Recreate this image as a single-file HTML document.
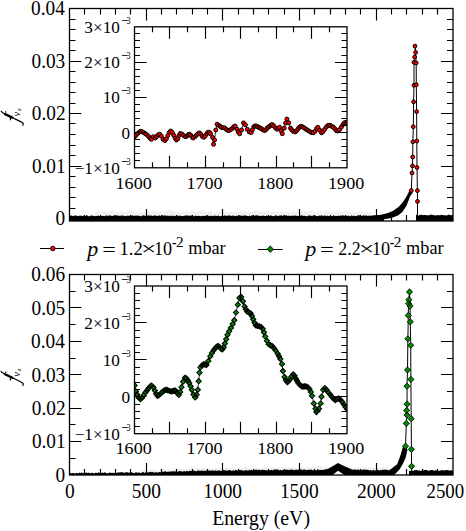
<!DOCTYPE html>
<html><head><meta charset="utf-8"><style>html,body{margin:0;padding:0;background:#fff;width:466px;height:531px;overflow:hidden;font-family:"Liberation Serif",serif}</style></head><body>
<svg width="466" height="531" viewBox="0 0 466 531" style="position:absolute;left:0;top:0">
<rect width="466" height="531" fill="#fff"/>
<path d="M95 211.47 97 211.2 99 210.29 101 211.44 103 211.33 105 211.13 107 212.14 109 211.32 111 211.03 113 210.62 115 212.36 117 211.84 119 212.37 121 210.58 123 210.87 125 212.5 127 210.14 129 210.19 131 210.97 133 211.06 135 212.21 137 212.56 139 211.28 141 212.45 143 212.12 145 212 147 212.52 149 211.44 151 211.5 153 210.49 155 211.3 157 211 159 211.35 161 210.94 163 211.46 165 211.9 167 210.11 169 210.11 171 210.5 173 210.83 175 211.81 177 212.03 179 211.88 181 212.42 183 210.68 185 211.6 187 210.48 189 211.63 191 210.2 193 210.48 195 212.6 197 212.08 199 210.32 201 211.43 203 210.15 205 211.61 207 212.42 209 211.03 211 210.65 213 211.93 215 212.38 217 211.77 219 210.19 221 210.7 223 212.31 225 211.98 227 212.35 229 212.45 231 210.61 233 212.16 235 211.2 237 211.48 239 212.12 241 210.77 243 212.27 245 210.99 247 212.31 249 211.55 251 212.07 253 211.93 255 210.17 257 210.59 259 211.84 261 210.39 263 212.07 265 211.61 267 210.46 269 211 271 212.35 273 210.13 275 212.07 277 211.95 279 210.67 281 211.78 283 211.86 285 212.42 287 212.37 289 211.14 291 211.99 293 211.1 295 211.67 297 211.47 299 210.2 301 211.39 303 211.16 305 210.43 307 212.14 309 212.21 311 210.33 313 210.56 315 211.98 317 212.13 319 210.75 321 210.25 323 212.11 325 210.22 327 210.39 329 211.09 331 211.55 333 212.34 335 212.5 337 210.19 339 212 341 210.84 343 211.96 345 210.54 347 211.11 349 211.87 351 212.16 353 210.8 355 212.43 357 212.03 359 211.2 361 210.47 363 211.06 365 211.9 367 210.31 369 212.09 371 212.56 372 212.6 372 216.5 95 216.5Z" fill="#f1f1f1"/>
<path d="M69.5 216.08 70.5 215.44 71.5 215.51 72.5 215.97 73.5 215.75 74.5 215.8 75.5 215.61 76.5 215.49 77.5 216.12 78.5 216.17 79.5 215.45 80.5 215.81 81.5 215.51 82.5 216.2 83.5 215.8 84.5 215.55 85.5 215.99 86.5 215.35 87.5 215.39 88.5 216.17 89.5 216.18 90.5 215.71 91.5 215.35 92.5 215.86 93.5 216.01 94.5 215.82 95.5 216.17 96.5 216 97.5 215.81 98.5 215.75 99.5 215.99 100.5 215.99 101.5 216 102.5 215.79 103.5 215.94 104.5 216.18 105.5 215.45 106.5 215.7 107.5 215.62 108.5 216.03 109.5 215.31 110.5 215.43 111.5 216.09 112.5 215.9 113.5 215.55 114.5 215.56 115.5 215.36 116.5 215.82 117.5 215.45 118.5 215.6 119.5 215.93 120.5 215.67 121.5 215.41 122.5 215.44 123.5 215.75 124.5 215.67 125.5 216.17 126.5 215.98 127.5 215.48 128.5 215.83 129.5 216.04 130.5 215.71 131.5 215.57 132.5 215.59 133.5 215.86 134.5 215.8 135.5 215.74 136.5 215.5 137.5 215.73 138.5 215.85 139.5 215.76 140.5 216.17 141.5 216.16 142.5 215.57 143.5 215.32 144.5 215.67 145.5 215.85 146.5 216.05 147.5 215.75 148.5 215.32 149.5 215.51 150.5 215.71 151.5 215.43 152.5 215.99 153.5 215.74 154.5 215.34 155.5 215.68 156.5 215.79 157.5 215.96 158.5 215.71 159.5 215.34 160.5 216.19 161.5 215.49 162.5 215.46 163.5 215.4 164.5 215.53 165.5 215.47 166.5 215.73 167.5 215.69 168.5 215.82 169.5 216.15 170.5 215.42 171.5 215.69 172.5 216.02 173.5 215.75 174.5 215.76 175.5 215.88 176.5 215.89 177.5 215.72 178.5 215.64 179.5 215.65 180.5 215.79 181.5 216.17 182.5 215.99 183.5 216.04 184.5 215.67 185.5 215.43 186.5 215.48 187.5 215.48 188.5 215.47 189.5 215.97 190.5 215.44 191.5 215.59 192.5 216.13 193.5 216.18 194.5 216.19 195.5 215.52 196.5 215.98 197.5 216.1 198.5 215.64 199.5 215.89 200.5 216.14 201.5 216.06 202.5 215.73 203.5 216.05 204.5 215.95 205.5 215.56 206.5 215.79 207.5 215.91 208.5 215.77 209.5 216.18 210.5 215.85 211.5 215.82 212.5 216.03 213.5 216.1 214.5 215.39 215.5 215.74 216.5 216.01 217.5 215.65 218.5 215.46 219.5 216.18 220.5 216.18 221.5 216.07 222.5 215.55 223.5 216.06 224.5 215.57 225.5 215.59 226.5 215.71 227.5 216 228.5 215.32 229.5 215.48 230.5 215.74 231.5 216 232.5 215.62 233.5 215.84 234.5 215.68 235.5 215.91 236.5 215.63 237.5 216.15 238.5 215.93 239.5 215.33 240.5 215.41 241.5 215.92 242.5 215.43 243.5 215.92 244.5 215.35 245.5 215.53 246.5 215.83 247.5 215.97 248.5 216.19 249.5 215.41 250.5 216.17 251.5 215.46 252.5 215.33 253.5 215.69 254.5 216.05 255.5 215.42 256.5 215.32 257.5 215.57 258.5 215.74 259.5 215.86 260.5 215.89 261.5 216.01 262.5 215.59 263.5 215.81 264.5 216.03 265.5 216.11 266.5 215.6 267.5 215.93 268.5 215.75 269.5 215.91 270.5 215.42 271.5 215.39 272.5 216.18 273.5 216.02 274.5 215.91 275.5 215.31 276.5 215.5 277.5 215.89 278.5 216.01 279.5 215.59 280.5 215.45 281.5 215.36 282.5 215.89 283.5 215.41 284.5 215.58 285.5 215.76 286.5 215.31 287.5 215.99 288.5 215.55 289.5 216.12 290.5 216.05 291.5 215.38 292.5 216.01 293.5 215.52 294.5 215.66 295.5 215.44 296.5 215.87 297.5 215.89 298.5 215.94 299.5 215.42 300.5 215.66 301.5 215.34 302.5 215.4 303.5 216.08 304.5 215.7 305.5 216.11 306.5 216.16 307.5 216.13 308.5 215.42 309.5 215.49 310.5 215.45 311.5 215.89 312.5 215.65 313.5 215.5 314.5 215.86 315.5 215.69 316.5 216 317.5 216.13 318.5 215.96 319.5 215.4 320.5 215.69 321.5 215.37 322.5 215.79 323.5 215.95 324.5 215.49 325.5 215.46 326.5 216.19 327.5 215.6 328.5 216.12 329.5 216.1 330.5 215.4 331.5 216.16 332.5 215.98 333.5 215.31 334.5 215.82 335.5 216.1 336.5 216.05 337.5 215.98 338.5 215.53 339.5 216.11 340.5 215.38 341.5 215.86 342.5 215.33 343.5 215.38 344.5 215.94 345.5 215.97 346.5 215.77 347.5 216.11 348.5 215.61 349.5 216.16 350.5 216.19 351.5 215.32 352.5 215.93 353.5 215.66 354.5 215.8 355.5 215.92 356.5 216.14 357.5 215.38 358.5 215.33 359.5 215.33 360.5 216.1 361.5 216.01 362.5 215.64 363.5 215.32 364.5 215.71 365.5 215.58 366.5 215.6 367.5 215.97 368.5 215.71 369.5 215.92 370.5 215.98 371.5 216.13 372.5 215.95 373.5 215.31 374.5 215.8 375.5 215.61 376.5 215.62 377.5 215.35 378.5 215.85 379.5 215.92 380.5 215.91 381.5 215.91 382.5 215.44 383.5 215.4 384 216.2 384 221 69.5 221Z" fill="#000"/>
<path d="M416 214.64 417 214.65 418 215.54 419 215.52 420 214.76 421 214.86 422 214.93 423 215.29 424 214.99 425 214.99 426 215.02 427 215.44 428 215.17 429 215.21 430 214.88 431 214.61 432 214.65 433 215.06 434 215.16 435 215.33 436 215.56 437 215.57 438 215.14 439 215.28 440 215.22 441 214.71 442 215.07 443 215.04 444 215.36 445 215.58 446 215.27 447 215.46 448 215.09 449 214.6 450 214.93 451 215.42 452 214.71 453 215.6 453 221 416 221Z" fill="#000"/>
<path d="M366 216 374 215.6 381 214.8 388 213.1 393.6 210.6 399 206.5 403.3 201.5 406.5 196.5 409.2 191 411.3 188.5 412.6 192.9 410.2 196.1 406.5 205.8 402.2 212.2 397.9 215.4 391.5 218.1 380 220 366 220Z" fill="#000"/>
<path d="M411.3 190.5 412 173 412.5 165.9 412.7 157 412.9 141.8 413.3 126.7 413.6 101.8 414 85.3 414 62.3 414.7 57 415.6 52.4 415 46.1 415 46.1 416.2 62.9 416.3 84.7 416.6 111.6 416.8 141 417 167.5 417.4 190.6 417.5 201.4 417.5 216.5" fill="none" stroke="#000" stroke-width="1.0"/>
<g fill="#ff0000" stroke="#000" stroke-width="1.0"><circle cx="411.3" cy="190.5" r="1.9"/><circle cx="412" cy="173" r="1.9"/><circle cx="412.5" cy="165.9" r="1.9"/><circle cx="412.7" cy="157" r="1.9"/><circle cx="412.9" cy="141.8" r="1.9"/><circle cx="413.3" cy="126.7" r="1.9"/><circle cx="413.6" cy="101.8" r="1.9"/><circle cx="414" cy="85.3" r="1.9"/><circle cx="414" cy="62.3" r="1.9"/><circle cx="414.7" cy="57" r="1.9"/><circle cx="415.6" cy="52.4" r="1.9"/><circle cx="415" cy="46.1" r="1.9"/><circle cx="416.2" cy="62.9" r="1.9"/><circle cx="416.3" cy="84.7" r="1.9"/><circle cx="416.6" cy="111.6" r="1.9"/><circle cx="416.8" cy="141" r="1.9"/><circle cx="417" cy="167.5" r="1.9"/><circle cx="417.4" cy="190.6" r="1.9"/><circle cx="417.5" cy="201.4" r="1.9"/></g>
<path d="M140 470.75 142 469.9 144 469.91 146 470.08 148 470.41 150 469.48 152 469.39 154 469.76 156 469.71 158 470.05 160 470.33 162 469.71 164 469.32 166 470.03 168 468.88 170 469.65 172 469.58 174 469.8 176 468.3 178 468.63 180 468.35 182 468.68 184 469.48 186 468.97 188 468.65 190 469.16 192 467.84 194 468.65 196 468.9 198 467.84 200 468.81 202 467.59 204 468.28 206 468.12 208 468.41 210 468.18 212 468.61 214 468.82 216 467.56 218 468.49 220 467.65 222 468.49 224 467.33 226 467.43 228 467.62 230 467.59 232 467.84 234 467.6 236 468.49 238 467.94 240 467.4 242 468.32 244 467.22 246 467.25 248 467.95 250 468 252 467.86 254 467.94 256 467 258 467.9 260 468.42 262 468.3 264 467.35 266 466.92 268 467.64 270 467.63 272 467.53 274 467.21 276 467.98 278 467.38 280 467.45 282 467.33 284 467.97 286 467.97 288 467.69 290 466.8 292 467.65 294 467.26 296 467.68 298 467.96 300 468 302 466.89 304 466.95 306 467.56 308 467.1 310 467.12 312 466.79 314 466.71 316 467.54 318 466.68 320 466.72 322 467.29 324 466.86 326 467.45 328 467.63 330 467.83 332 466.89 334 467.97 336 468.12 338 467.02 340 467.07 342 467.52 344 466.99 346 468.18 348 467.87 350 467.83 352 467.64 354 468.02 356 468.18 358 467.79 360 466.95 362 466.83 364 467.19 366 467.6 368 467.95 370 466.9 372 467.55 374 467.25 376 468.31 378 468.04 380 467.11 382 467.18 384 467.06 386 467.48 388 467.75 390 468.4 390 475 140 475Z" fill="#f0f0f0"/>
<path d="M69.5 473.34 70.5 472.99 71.5 473.18 72.5 472.92 73.5 472.89 74.5 473.5 75.5 473.55 76.5 472.64 77.5 473.27 78.5 473.29 79.5 472.45 80.5 473.02 81.5 472.61 82.5 473 83.5 472.82 84.5 473.35 85.5 472.81 86.5 472.55 87.5 472.92 88.5 472.67 89.5 472.75 90.5 473.41 91.5 472.64 92.5 472.82 93.5 473.13 94.5 473.42 95.5 472.5 96.5 472.93 97.5 472.65 98.5 472.47 99.5 472.64 100.5 472.41 101.5 472.98 102.5 472.53 103.5 472.92 104.5 472.37 105.5 472.43 106.5 473.28 107.5 473.23 108.5 473.14 109.5 472.31 110.5 472.89 111.5 472.67 112.5 473.02 113.5 472.79 114.5 472.92 115.5 472.95 116.5 472.69 117.5 472.68 118.5 472.33 119.5 472.57 120.5 472.29 121.5 472.36 122.5 472.21 123.5 472.55 124.5 473.11 125.5 472.33 126.5 472.21 127.5 472.28 128.5 472.64 129.5 472.47 130.5 473.02 131.5 472.33 132.5 472.61 133.5 472.92 134.5 473.16 135.5 472.29 136.5 472.13 137.5 473.12 138.5 472.33 139.5 472.75 140.5 473.02 141.5 472.83 142.5 472.27 143.5 472.12 144.5 473 145.5 472.34 146.5 472.93 147.5 472.16 148.5 472.55 149.5 471.91 150.5 471.77 151.5 472.26 152.5 471.68 153.5 472.41 154.5 472.63 155.5 472.02 156.5 472.62 157.5 472.4 158.5 472.13 159.5 471.88 160.5 472.34 161.5 472.44 162.5 471.5 163.5 472.07 164.5 471.33 165.5 471.36 166.5 471.9 167.5 471.78 168.5 471.68 169.5 471.51 170.5 471.53 171.5 471.53 172.5 471.43 173.5 471.05 174.5 471.49 175.5 471.54 176.5 471.19 177.5 471.69 178.5 471.59 179.5 470.81 180.5 471.28 181.5 471.21 182.5 471.77 183.5 471.29 184.5 471.08 185.5 471.66 186.5 470.97 187.5 470.92 188.5 471.52 189.5 470.86 190.5 471 191.5 470.74 192.5 471.06 193.5 470.64 194.5 470.57 195.5 471.33 196.5 471.25 197.5 470.54 198.5 470.19 199.5 470.94 200.5 470.69 201.5 470.53 202.5 470.83 203.5 470.77 204.5 470.82 205.5 470.74 206.5 470.49 207.5 470.8 208.5 470.71 209.5 470.26 210.5 471.08 211.5 470.47 212.5 470.28 213.5 470.74 214.5 470.82 215.5 470.18 216.5 470.79 217.5 470.84 218.5 470.55 219.5 470.26 220.5 470.9 221.5 470.65 222.5 470.63 223.5 470.07 224.5 470.5 225.5 470.03 226.5 470.78 227.5 470.58 228.5 470.23 229.5 469.96 230.5 470.43 231.5 470.67 232.5 470.77 233.5 470.32 234.5 470.68 235.5 469.99 236.5 469.95 237.5 470.66 238.5 470.55 239.5 469.96 240.5 470.13 241.5 469.94 242.5 470.44 243.5 470.67 244.5 470.48 245.5 469.92 246.5 470.48 247.5 470.39 248.5 470.3 249.5 470.29 250.5 470.3 251.5 469.72 252.5 470.56 253.5 470.71 254.5 469.67 255.5 469.73 256.5 469.61 257.5 470.2 258.5 469.63 259.5 469.64 260.5 470.41 261.5 469.83 262.5 469.72 263.5 469.9 264.5 470.05 265.5 470.29 266.5 470.23 267.5 470.34 268.5 470.51 269.5 469.93 270.5 470.25 271.5 469.67 272.5 470.5 273.5 469.54 274.5 469.77 275.5 469.5 276.5 469.53 277.5 469.51 278.5 469.86 279.5 470.47 280.5 469.66 281.5 470.28 282.5 470.13 283.5 469.72 284.5 469.86 285.5 469.98 286.5 469.39 287.5 469.74 288.5 470.03 289.5 470.12 290.5 469.44 291.5 469.85 292.5 469.51 293.5 469.97 294.5 470.13 295.5 469.75 296.5 469.43 297.5 470.13 298.5 469.44 299.5 469.29 300.5 469.42 301.5 469.4 302.5 470.3 303.5 469.62 304.5 469.37 305.5 470.26 306.5 470.02 307.5 470.03 308.5 469.75 309.5 469.87 310.5 469.81 311.5 469.48 312.5 470.34 313.5 470.28 314.5 470.21 315.5 470.21 316.5 470.28 317.5 469.29 318.5 469.42 319.5 470.27 320.5 469.82 321.5 470.02 322.5 470.03 323.5 469.99 324.5 469.67 325.5 469.74 326.5 469.99 327.5 470.18 328.5 470.03 329.5 470.26 330.5 469.79 331.5 469.62 332.5 469.99 333.5 470.32 334.5 470.22 335.5 470.01 336.5 469.76 337.5 469.56 338.5 470.01 339.5 469.55 340.5 469.75 341.5 469.96 342.5 470.03 343.5 469.9 344.5 469.68 345.5 469.99 346.5 469.69 347.5 469.95 348.5 470.19 349.5 469.88 350.5 469.7 351.5 470.39 352.5 470.01 353.5 470.01 354.5 469.51 355.5 469.45 356.5 470.08 357.5 469.5 358.5 469.62 359.5 470.21 360.5 469.99 361.5 470.37 362.5 469.61 363.5 469.78 364.5 469.54 365.5 469.65 366.5 469.79 367.5 469.72 368.5 469.91 369.5 470.42 370.5 469.89 371.5 470.53 372.5 470.38 373.5 469.69 374.5 470.5 375.5 470.45 376.5 470.45 377.5 469.59 378.5 470.36 379.5 470.54 380.5 469.64 381.5 470.44 382.5 469.65 383.5 469.84 384.5 469.66 385.5 469.54 386.5 469.95 387.5 469.71 388.5 470.56 389.5 469.75 390 470.6 390 475 69.5 475Z" fill="#000"/>
<path d="M409 470.72 410 470.88 411 470.52 412 470.81 413 470.92 414 470.52 415 469.9 416 470.04 417 470.08 418 470.73 419 470.36 420 470.67 421 470.79 422 470.87 423 470.74 424 469.89 425 470.01 426 470.03 427 470.04 428 470.77 429 470.63 430 470.25 431 470.12 432 469.97 433 469.94 434 470.9 435 470.27 436 470.19 437 470.39 438 470.79 439 470.43 440 470.89 441 469.88 442 469.96 443 470.34 444 470.64 445 469.91 446 470.31 447 469.94 448 469.98 449 470.39 450 470.5 451 470.28 452 470.48 453 471 453 475 409 475Z" fill="#000"/>
<path d="M318 471 327.7 469 333 466 338 463 344 466 352 469.5 360 471 360 475 318 475Z" fill="#000"/>
<path d="M332.5 475 338 470.8 344.5 475Z" fill="#fff"/>
<path d="M386 471.8 388.6 471 392.9 467.6 397.2 464.2 398.5 460.8 400.6 454.7 401.9 450.5 402.7 447.4 405 445 407.5 449.6 405.8 457.3 403.2 463.3 399.7 469.3 394.2 474.9 386 475Z" fill="#000"/>
<path d="M405.5 446.2 406.3 423.4 407.1 415.1 406.7 410.4 407.1 404.2 407 386.2 407.5 370 407.9 338.8 408.3 315.4 408.5 303.5 408.9 299.8 409.5 291.9 409.5 291.9 410.1 306 410.3 321.8 410.7 345.3 410.9 379.4 411.2 418.7 411.4 449.3 411.6 466.3 411.8 472" fill="none" stroke="#000" stroke-width="1.0"/>
<path d="M405.5 443.1l3.1 3.1l-3.1 3.1l-3.1 -3.1zM406.3 420.3l3.1 3.1l-3.1 3.1l-3.1 -3.1zM407.1 412l3.1 3.1l-3.1 3.1l-3.1 -3.1zM406.7 407.3l3.1 3.1l-3.1 3.1l-3.1 -3.1zM407.1 401.1l3.1 3.1l-3.1 3.1l-3.1 -3.1zM407 383.1l3.1 3.1l-3.1 3.1l-3.1 -3.1zM407.5 366.9l3.1 3.1l-3.1 3.1l-3.1 -3.1zM407.9 335.7l3.1 3.1l-3.1 3.1l-3.1 -3.1zM408.3 312.3l3.1 3.1l-3.1 3.1l-3.1 -3.1zM408.5 300.4l3.1 3.1l-3.1 3.1l-3.1 -3.1zM408.9 296.7l3.1 3.1l-3.1 3.1l-3.1 -3.1zM409.5 288.8l3.1 3.1l-3.1 3.1l-3.1 -3.1zM410.1 302.9l3.1 3.1l-3.1 3.1l-3.1 -3.1zM410.3 318.7l3.1 3.1l-3.1 3.1l-3.1 -3.1zM410.7 342.2l3.1 3.1l-3.1 3.1l-3.1 -3.1zM410.9 376.3l3.1 3.1l-3.1 3.1l-3.1 -3.1zM411.2 415.6l3.1 3.1l-3.1 3.1l-3.1 -3.1zM411.4 446.2l3.1 3.1l-3.1 3.1l-3.1 -3.1zM411.6 463.2l3.1 3.1l-3.1 3.1l-3.1 -3.1z" fill="#008a00" stroke="#000" stroke-width="0.85"/>
<rect x="134.5" y="26.8" width="212.5" height="141" fill="#fff"/>
<rect x="134.5" y="286" width="212.5" height="147.7" fill="#fff"/>
<clipPath id="ct"><rect x="134.5" y="26.8" width="212.5" height="141"/></clipPath>
<g clip-path="url(#ct)">
<path d="M134.6 136.7 135.87 135.39 137.65 133.58 139.2 132.2 140.41 131.42 141.7 131.6 143.26 132.34 145.12 133.5 146.9 134.8 148.55 136.47 150.12 138.28 151.4 139.3 153.3 136.7 155.2 138 156.48 136.73 158.05 134.9 159.7 134.2 161.36 136.17 163.1 139.27 164.9 140.6 166.31 138.89 167.76 135.64 169.24 132.47 170.7 131 172.2 132.31 173.72 135.31 175.19 138.4 176.5 140 177.86 138.62 179 135.52 180.3 133.5 181.98 134.06 183.81 135.7 185.5 136.7 186.9 136.06 188.16 134.78 189.4 134.2 190.74 135.2 192.07 136.89 193.2 138 195.2 136.5 196.43 135.19 197.91 133.66 199.4 133 200.83 134.2 202.26 136.27 203.7 137.3 205.2 136.05 206.69 133.75 208 132.2 209.44 132.45 210.6 133.8 212.6 137.5 213.5 144.3 214.5 140 215.8 130 217.1 124.2 219 125.5 220.22 126.49 221.6 127.4 223.16 127.66 224.8 128 226.4 129.42 228 130.6 229.56 130.31 231.2 129.3 232.52 128.14 233.92 126.76 235.1 126.1 237 129.3 238.3 131.99 239.6 133.8 241.5 130 243.5 122.9 245.4 124.8 247.3 129.3 249.3 131.9 251.2 132.5 252.46 129.67 253.8 126.7 255.05 125.96 256.3 126.1 257.59 126.63 258.9 127.4 260.16 128.01 261.5 128.7 263.1 129.89 264.7 130.6 266.04 129.54 267.3 128 268.61 126.98 269.9 126.1 270.97 124.94 272.3 124.6 273.74 125.92 275.43 127.92 276.9 129.2 278.37 128.14 279.6 127.3 281 130.73 282.3 133.7 284.2 128.2 285.56 123.07 286.9 119.1 288.7 122.8 290.5 128.2 291.79 129.9 293.4 131.41 295.1 131.9 296.41 130.98 297.8 129.21 299.21 127.41 300.6 126.4 301.91 126.5 303.19 127.23 304.52 128.25 306 129.2 307.38 130.01 308.91 131.02 310.48 131.98 311.98 132.65 313.3 132.8 315.07 131.23 316.54 128.66 317.9 127.3 319.59 130.16 321.5 132.8 322.92 131.66 324.58 129.38 326.3 126.99 327.9 125.5 329.36 125.27 330.76 125.71 332.11 126.5 333.4 127.3 334.93 128.83 336.37 130.58 338 131 339.56 129.59 341.32 127.13 343.02 124.55 344.4 122.8 346.1 122.29 347 122.8" fill="none" stroke="#000" stroke-width="0.8"/>
<g fill="#ff0000" stroke="#000" stroke-width="1.0"><circle cx="134.6" cy="136.7" r="2.0"/><circle cx="135.87" cy="135.39" r="2.0"/><circle cx="137.65" cy="133.58" r="2.0"/><circle cx="139.2" cy="132.2" r="2.0"/><circle cx="140.41" cy="131.42" r="2.0"/><circle cx="141.7" cy="131.6" r="2.0"/><circle cx="143.26" cy="132.34" r="2.0"/><circle cx="145.12" cy="133.5" r="2.0"/><circle cx="146.9" cy="134.8" r="2.0"/><circle cx="148.55" cy="136.47" r="2.0"/><circle cx="150.12" cy="138.28" r="2.0"/><circle cx="151.4" cy="139.3" r="2.0"/><circle cx="153.3" cy="136.7" r="2.0"/><circle cx="155.2" cy="138" r="2.0"/><circle cx="156.48" cy="136.73" r="2.0"/><circle cx="158.05" cy="134.9" r="2.0"/><circle cx="159.7" cy="134.2" r="2.0"/><circle cx="161.36" cy="136.17" r="2.0"/><circle cx="163.1" cy="139.27" r="2.0"/><circle cx="164.9" cy="140.6" r="2.0"/><circle cx="166.31" cy="138.89" r="2.0"/><circle cx="167.76" cy="135.64" r="2.0"/><circle cx="169.24" cy="132.47" r="2.0"/><circle cx="170.7" cy="131" r="2.0"/><circle cx="172.2" cy="132.31" r="2.0"/><circle cx="173.72" cy="135.31" r="2.0"/><circle cx="175.19" cy="138.4" r="2.0"/><circle cx="176.5" cy="140" r="2.0"/><circle cx="177.86" cy="138.62" r="2.0"/><circle cx="179" cy="135.52" r="2.0"/><circle cx="180.3" cy="133.5" r="2.0"/><circle cx="181.98" cy="134.06" r="2.0"/><circle cx="183.81" cy="135.7" r="2.0"/><circle cx="185.5" cy="136.7" r="2.0"/><circle cx="186.9" cy="136.06" r="2.0"/><circle cx="188.16" cy="134.78" r="2.0"/><circle cx="189.4" cy="134.2" r="2.0"/><circle cx="190.74" cy="135.2" r="2.0"/><circle cx="192.07" cy="136.89" r="2.0"/><circle cx="193.2" cy="138" r="2.0"/><circle cx="195.2" cy="136.5" r="2.0"/><circle cx="196.43" cy="135.19" r="2.0"/><circle cx="197.91" cy="133.66" r="2.0"/><circle cx="199.4" cy="133" r="2.0"/><circle cx="200.83" cy="134.2" r="2.0"/><circle cx="202.26" cy="136.27" r="2.0"/><circle cx="203.7" cy="137.3" r="2.0"/><circle cx="205.2" cy="136.05" r="2.0"/><circle cx="206.69" cy="133.75" r="2.0"/><circle cx="208" cy="132.2" r="2.0"/><circle cx="209.44" cy="132.45" r="2.0"/><circle cx="210.6" cy="133.8" r="2.0"/><circle cx="212.6" cy="137.5" r="2.0"/><circle cx="213.5" cy="144.3" r="2.0"/><circle cx="214.5" cy="140" r="2.0"/><circle cx="215.8" cy="130" r="2.0"/><circle cx="217.1" cy="124.2" r="2.0"/><circle cx="219" cy="125.5" r="2.0"/><circle cx="220.22" cy="126.49" r="2.0"/><circle cx="221.6" cy="127.4" r="2.0"/><circle cx="223.16" cy="127.66" r="2.0"/><circle cx="224.8" cy="128" r="2.0"/><circle cx="226.4" cy="129.42" r="2.0"/><circle cx="228" cy="130.6" r="2.0"/><circle cx="229.56" cy="130.31" r="2.0"/><circle cx="231.2" cy="129.3" r="2.0"/><circle cx="232.52" cy="128.14" r="2.0"/><circle cx="233.92" cy="126.76" r="2.0"/><circle cx="235.1" cy="126.1" r="2.0"/><circle cx="237" cy="129.3" r="2.0"/><circle cx="238.3" cy="131.99" r="2.0"/><circle cx="239.6" cy="133.8" r="2.0"/><circle cx="241.5" cy="130" r="2.0"/><circle cx="243.5" cy="122.9" r="2.0"/><circle cx="245.4" cy="124.8" r="2.0"/><circle cx="247.3" cy="129.3" r="2.0"/><circle cx="249.3" cy="131.9" r="2.0"/><circle cx="251.2" cy="132.5" r="2.0"/><circle cx="252.46" cy="129.67" r="2.0"/><circle cx="253.8" cy="126.7" r="2.0"/><circle cx="255.05" cy="125.96" r="2.0"/><circle cx="256.3" cy="126.1" r="2.0"/><circle cx="257.59" cy="126.63" r="2.0"/><circle cx="258.9" cy="127.4" r="2.0"/><circle cx="260.16" cy="128.01" r="2.0"/><circle cx="261.5" cy="128.7" r="2.0"/><circle cx="263.1" cy="129.89" r="2.0"/><circle cx="264.7" cy="130.6" r="2.0"/><circle cx="266.04" cy="129.54" r="2.0"/><circle cx="267.3" cy="128" r="2.0"/><circle cx="268.61" cy="126.98" r="2.0"/><circle cx="269.9" cy="126.1" r="2.0"/><circle cx="270.97" cy="124.94" r="2.0"/><circle cx="272.3" cy="124.6" r="2.0"/><circle cx="273.74" cy="125.92" r="2.0"/><circle cx="275.43" cy="127.92" r="2.0"/><circle cx="276.9" cy="129.2" r="2.0"/><circle cx="278.37" cy="128.14" r="2.0"/><circle cx="279.6" cy="127.3" r="2.0"/><circle cx="281" cy="130.73" r="2.0"/><circle cx="282.3" cy="133.7" r="2.0"/><circle cx="284.2" cy="128.2" r="2.0"/><circle cx="285.56" cy="123.07" r="2.0"/><circle cx="286.9" cy="119.1" r="2.0"/><circle cx="288.7" cy="122.8" r="2.0"/><circle cx="290.5" cy="128.2" r="2.0"/><circle cx="291.79" cy="129.9" r="2.0"/><circle cx="293.4" cy="131.41" r="2.0"/><circle cx="295.1" cy="131.9" r="2.0"/><circle cx="296.41" cy="130.98" r="2.0"/><circle cx="297.8" cy="129.21" r="2.0"/><circle cx="299.21" cy="127.41" r="2.0"/><circle cx="300.6" cy="126.4" r="2.0"/><circle cx="301.91" cy="126.5" r="2.0"/><circle cx="303.19" cy="127.23" r="2.0"/><circle cx="304.52" cy="128.25" r="2.0"/><circle cx="306" cy="129.2" r="2.0"/><circle cx="307.38" cy="130.01" r="2.0"/><circle cx="308.91" cy="131.02" r="2.0"/><circle cx="310.48" cy="131.98" r="2.0"/><circle cx="311.98" cy="132.65" r="2.0"/><circle cx="313.3" cy="132.8" r="2.0"/><circle cx="315.07" cy="131.23" r="2.0"/><circle cx="316.54" cy="128.66" r="2.0"/><circle cx="317.9" cy="127.3" r="2.0"/><circle cx="319.59" cy="130.16" r="2.0"/><circle cx="321.5" cy="132.8" r="2.0"/><circle cx="322.92" cy="131.66" r="2.0"/><circle cx="324.58" cy="129.38" r="2.0"/><circle cx="326.3" cy="126.99" r="2.0"/><circle cx="327.9" cy="125.5" r="2.0"/><circle cx="329.36" cy="125.27" r="2.0"/><circle cx="330.76" cy="125.71" r="2.0"/><circle cx="332.11" cy="126.5" r="2.0"/><circle cx="333.4" cy="127.3" r="2.0"/><circle cx="334.93" cy="128.83" r="2.0"/><circle cx="336.37" cy="130.58" r="2.0"/><circle cx="338" cy="131" r="2.0"/><circle cx="339.56" cy="129.59" r="2.0"/><circle cx="341.32" cy="127.13" r="2.0"/><circle cx="343.02" cy="124.55" r="2.0"/><circle cx="344.4" cy="122.8" r="2.0"/><circle cx="346.1" cy="122.29" r="2.0"/><circle cx="347" cy="122.8" r="2.0"/></g>
</g>
<clipPath id="cb"><rect x="134.5" y="286" width="212.5" height="147.7"/></clipPath>
<g clip-path="url(#cb)">
<path d="M134.6 385.5 136 391.5 137.19 394.48 138.69 397.64 140.3 399.2 141.94 398.01 143.67 395.21 145.5 392.4 147 390.4 148.61 388.21 150.16 386.38 151.5 385.5 153.41 387.29 154.9 390.6 156.14 393.73 157.5 395.8 158.81 395.27 160.31 393.79 161.8 392.4 163.17 391.31 164.53 390.32 166 389.8 167.69 390.14 169.5 390.97 171.2 391.5 172.73 391.2 174.17 390.6 175.5 390.6 177.31 393.23 178.9 395 180.2 391.96 181.5 387.2 183.09 381.69 184.9 377.8 186.33 378.36 187.86 380.53 189.2 382.9 190.56 386.19 191.8 389.8 193.5 394.56 195.2 397.5 196.66 394.67 197.8 389.8 198.7 381.2 199.5 372.6 200.4 367.5 201.99 365.38 203.8 364 205.07 364.78 206.4 364.9 208.3 360.98 210.3 356.2 211.97 352.92 213.7 350.2 215.07 348.39 216.53 346.77 218 346 219.5 346.92 220.99 348.68 222.3 349.4 223.71 347.15 224.9 343.4 226.15 339.16 227.5 334.8 229.15 331.29 230.9 327.9 232.71 324.1 234.3 320.2 236 312.5 237.8 304.7 239.5 297.9 241.2 297 242.9 301.3 244.6 306.5 245.79 309.27 247.2 311.6 248.9 312.39 250.6 313.3 251.95 316.03 253.2 319.3 254.45 322.62 255.8 325.3 257.44 325.96 259.2 326.2 261.01 327.07 262.7 328.8 263.95 332.33 265.2 336.5 266.89 340.72 268.7 344.2 270.41 345.32 272.1 346 273.88 347.99 275.5 350.2 277.7 353.7 279.03 356.2 280.3 358.9 282 364 282.9 370.9 284.6 376.9 285.85 380.04 287.2 382.1 288.39 381.45 289.7 379.5 291.44 376.47 293.2 374.3 294.56 375.86 295.8 378.6 296.99 380.8 298.3 382.9 299.94 384.92 301.8 386.4 303.17 386.57 304.63 386.34 306 386.4 307.86 387.22 309.5 388.9 310.86 392.02 312 395.8 313.8 403.5 315.5 408.7 316.4 412.1 317.6 410.94 318.9 408.7 320.6 403.5 321.5 396.7 323.2 389.8 324.9 388.1 326.54 389.88 328.4 392.4 330.11 394.61 331.8 396.7 333.49 398.77 335.2 400.1 336.95 399.25 338.7 398.4 340.41 399.67 342.1 401.8 343.92 404.49 345.5 407 347 409" fill="none" stroke="#000" stroke-width="0.8"/>
<path d="M134.6 382.9l2.6 2.6l-2.6 2.6l-2.6 -2.6zM136 388.9l2.6 2.6l-2.6 2.6l-2.6 -2.6zM137.19 391.88l2.6 2.6l-2.6 2.6l-2.6 -2.6zM138.69 395.04l2.6 2.6l-2.6 2.6l-2.6 -2.6zM140.3 396.6l2.6 2.6l-2.6 2.6l-2.6 -2.6zM141.94 395.41l2.6 2.6l-2.6 2.6l-2.6 -2.6zM143.67 392.61l2.6 2.6l-2.6 2.6l-2.6 -2.6zM145.5 389.8l2.6 2.6l-2.6 2.6l-2.6 -2.6zM147 387.8l2.6 2.6l-2.6 2.6l-2.6 -2.6zM148.61 385.61l2.6 2.6l-2.6 2.6l-2.6 -2.6zM150.16 383.78l2.6 2.6l-2.6 2.6l-2.6 -2.6zM151.5 382.9l2.6 2.6l-2.6 2.6l-2.6 -2.6zM153.41 384.69l2.6 2.6l-2.6 2.6l-2.6 -2.6zM154.9 388l2.6 2.6l-2.6 2.6l-2.6 -2.6zM156.14 391.13l2.6 2.6l-2.6 2.6l-2.6 -2.6zM157.5 393.2l2.6 2.6l-2.6 2.6l-2.6 -2.6zM158.81 392.67l2.6 2.6l-2.6 2.6l-2.6 -2.6zM160.31 391.19l2.6 2.6l-2.6 2.6l-2.6 -2.6zM161.8 389.8l2.6 2.6l-2.6 2.6l-2.6 -2.6zM163.17 388.71l2.6 2.6l-2.6 2.6l-2.6 -2.6zM164.53 387.72l2.6 2.6l-2.6 2.6l-2.6 -2.6zM166 387.2l2.6 2.6l-2.6 2.6l-2.6 -2.6zM167.69 387.54l2.6 2.6l-2.6 2.6l-2.6 -2.6zM169.5 388.37l2.6 2.6l-2.6 2.6l-2.6 -2.6zM171.2 388.9l2.6 2.6l-2.6 2.6l-2.6 -2.6zM172.73 388.6l2.6 2.6l-2.6 2.6l-2.6 -2.6zM174.17 388l2.6 2.6l-2.6 2.6l-2.6 -2.6zM175.5 388l2.6 2.6l-2.6 2.6l-2.6 -2.6zM177.31 390.63l2.6 2.6l-2.6 2.6l-2.6 -2.6zM178.9 392.4l2.6 2.6l-2.6 2.6l-2.6 -2.6zM180.2 389.36l2.6 2.6l-2.6 2.6l-2.6 -2.6zM181.5 384.6l2.6 2.6l-2.6 2.6l-2.6 -2.6zM183.09 379.09l2.6 2.6l-2.6 2.6l-2.6 -2.6zM184.9 375.2l2.6 2.6l-2.6 2.6l-2.6 -2.6zM186.33 375.76l2.6 2.6l-2.6 2.6l-2.6 -2.6zM187.86 377.93l2.6 2.6l-2.6 2.6l-2.6 -2.6zM189.2 380.3l2.6 2.6l-2.6 2.6l-2.6 -2.6zM190.56 383.59l2.6 2.6l-2.6 2.6l-2.6 -2.6zM191.8 387.2l2.6 2.6l-2.6 2.6l-2.6 -2.6zM193.5 391.96l2.6 2.6l-2.6 2.6l-2.6 -2.6zM195.2 394.9l2.6 2.6l-2.6 2.6l-2.6 -2.6zM196.66 392.07l2.6 2.6l-2.6 2.6l-2.6 -2.6zM197.8 387.2l2.6 2.6l-2.6 2.6l-2.6 -2.6zM198.7 378.6l2.6 2.6l-2.6 2.6l-2.6 -2.6zM199.5 370l2.6 2.6l-2.6 2.6l-2.6 -2.6zM200.4 364.9l2.6 2.6l-2.6 2.6l-2.6 -2.6zM201.99 362.78l2.6 2.6l-2.6 2.6l-2.6 -2.6zM203.8 361.4l2.6 2.6l-2.6 2.6l-2.6 -2.6zM205.07 362.18l2.6 2.6l-2.6 2.6l-2.6 -2.6zM206.4 362.3l2.6 2.6l-2.6 2.6l-2.6 -2.6zM208.3 358.38l2.6 2.6l-2.6 2.6l-2.6 -2.6zM210.3 353.6l2.6 2.6l-2.6 2.6l-2.6 -2.6zM211.97 350.32l2.6 2.6l-2.6 2.6l-2.6 -2.6zM213.7 347.6l2.6 2.6l-2.6 2.6l-2.6 -2.6zM215.07 345.79l2.6 2.6l-2.6 2.6l-2.6 -2.6zM216.53 344.17l2.6 2.6l-2.6 2.6l-2.6 -2.6zM218 343.4l2.6 2.6l-2.6 2.6l-2.6 -2.6zM219.5 344.32l2.6 2.6l-2.6 2.6l-2.6 -2.6zM220.99 346.08l2.6 2.6l-2.6 2.6l-2.6 -2.6zM222.3 346.8l2.6 2.6l-2.6 2.6l-2.6 -2.6zM223.71 344.55l2.6 2.6l-2.6 2.6l-2.6 -2.6zM224.9 340.8l2.6 2.6l-2.6 2.6l-2.6 -2.6zM226.15 336.56l2.6 2.6l-2.6 2.6l-2.6 -2.6zM227.5 332.2l2.6 2.6l-2.6 2.6l-2.6 -2.6zM229.15 328.69l2.6 2.6l-2.6 2.6l-2.6 -2.6zM230.9 325.3l2.6 2.6l-2.6 2.6l-2.6 -2.6zM232.71 321.5l2.6 2.6l-2.6 2.6l-2.6 -2.6zM234.3 317.6l2.6 2.6l-2.6 2.6l-2.6 -2.6zM236 309.9l2.6 2.6l-2.6 2.6l-2.6 -2.6zM237.8 302.1l2.6 2.6l-2.6 2.6l-2.6 -2.6zM239.5 295.3l2.6 2.6l-2.6 2.6l-2.6 -2.6zM241.2 294.4l2.6 2.6l-2.6 2.6l-2.6 -2.6zM242.9 298.7l2.6 2.6l-2.6 2.6l-2.6 -2.6zM244.6 303.9l2.6 2.6l-2.6 2.6l-2.6 -2.6zM245.79 306.67l2.6 2.6l-2.6 2.6l-2.6 -2.6zM247.2 309l2.6 2.6l-2.6 2.6l-2.6 -2.6zM248.9 309.79l2.6 2.6l-2.6 2.6l-2.6 -2.6zM250.6 310.7l2.6 2.6l-2.6 2.6l-2.6 -2.6zM251.95 313.43l2.6 2.6l-2.6 2.6l-2.6 -2.6zM253.2 316.7l2.6 2.6l-2.6 2.6l-2.6 -2.6zM254.45 320.02l2.6 2.6l-2.6 2.6l-2.6 -2.6zM255.8 322.7l2.6 2.6l-2.6 2.6l-2.6 -2.6zM257.44 323.36l2.6 2.6l-2.6 2.6l-2.6 -2.6zM259.2 323.6l2.6 2.6l-2.6 2.6l-2.6 -2.6zM261.01 324.47l2.6 2.6l-2.6 2.6l-2.6 -2.6zM262.7 326.2l2.6 2.6l-2.6 2.6l-2.6 -2.6zM263.95 329.73l2.6 2.6l-2.6 2.6l-2.6 -2.6zM265.2 333.9l2.6 2.6l-2.6 2.6l-2.6 -2.6zM266.89 338.12l2.6 2.6l-2.6 2.6l-2.6 -2.6zM268.7 341.6l2.6 2.6l-2.6 2.6l-2.6 -2.6zM270.41 342.72l2.6 2.6l-2.6 2.6l-2.6 -2.6zM272.1 343.4l2.6 2.6l-2.6 2.6l-2.6 -2.6zM273.88 345.39l2.6 2.6l-2.6 2.6l-2.6 -2.6zM275.5 347.6l2.6 2.6l-2.6 2.6l-2.6 -2.6zM277.7 351.1l2.6 2.6l-2.6 2.6l-2.6 -2.6zM279.03 353.6l2.6 2.6l-2.6 2.6l-2.6 -2.6zM280.3 356.3l2.6 2.6l-2.6 2.6l-2.6 -2.6zM282 361.4l2.6 2.6l-2.6 2.6l-2.6 -2.6zM282.9 368.3l2.6 2.6l-2.6 2.6l-2.6 -2.6zM284.6 374.3l2.6 2.6l-2.6 2.6l-2.6 -2.6zM285.85 377.44l2.6 2.6l-2.6 2.6l-2.6 -2.6zM287.2 379.5l2.6 2.6l-2.6 2.6l-2.6 -2.6zM288.39 378.85l2.6 2.6l-2.6 2.6l-2.6 -2.6zM289.7 376.9l2.6 2.6l-2.6 2.6l-2.6 -2.6zM291.44 373.87l2.6 2.6l-2.6 2.6l-2.6 -2.6zM293.2 371.7l2.6 2.6l-2.6 2.6l-2.6 -2.6zM294.56 373.26l2.6 2.6l-2.6 2.6l-2.6 -2.6zM295.8 376l2.6 2.6l-2.6 2.6l-2.6 -2.6zM296.99 378.2l2.6 2.6l-2.6 2.6l-2.6 -2.6zM298.3 380.3l2.6 2.6l-2.6 2.6l-2.6 -2.6zM299.94 382.32l2.6 2.6l-2.6 2.6l-2.6 -2.6zM301.8 383.8l2.6 2.6l-2.6 2.6l-2.6 -2.6zM303.17 383.97l2.6 2.6l-2.6 2.6l-2.6 -2.6zM304.63 383.74l2.6 2.6l-2.6 2.6l-2.6 -2.6zM306 383.8l2.6 2.6l-2.6 2.6l-2.6 -2.6zM307.86 384.62l2.6 2.6l-2.6 2.6l-2.6 -2.6zM309.5 386.3l2.6 2.6l-2.6 2.6l-2.6 -2.6zM310.86 389.42l2.6 2.6l-2.6 2.6l-2.6 -2.6zM312 393.2l2.6 2.6l-2.6 2.6l-2.6 -2.6zM313.8 400.9l2.6 2.6l-2.6 2.6l-2.6 -2.6zM315.5 406.1l2.6 2.6l-2.6 2.6l-2.6 -2.6zM316.4 409.5l2.6 2.6l-2.6 2.6l-2.6 -2.6zM317.6 408.34l2.6 2.6l-2.6 2.6l-2.6 -2.6zM318.9 406.1l2.6 2.6l-2.6 2.6l-2.6 -2.6zM320.6 400.9l2.6 2.6l-2.6 2.6l-2.6 -2.6zM321.5 394.1l2.6 2.6l-2.6 2.6l-2.6 -2.6zM323.2 387.2l2.6 2.6l-2.6 2.6l-2.6 -2.6zM324.9 385.5l2.6 2.6l-2.6 2.6l-2.6 -2.6zM326.54 387.27l2.6 2.6l-2.6 2.6l-2.6 -2.6zM328.4 389.8l2.6 2.6l-2.6 2.6l-2.6 -2.6zM330.11 392.01l2.6 2.6l-2.6 2.6l-2.6 -2.6zM331.8 394.1l2.6 2.6l-2.6 2.6l-2.6 -2.6zM333.49 396.17l2.6 2.6l-2.6 2.6l-2.6 -2.6zM335.2 397.5l2.6 2.6l-2.6 2.6l-2.6 -2.6zM336.95 396.65l2.6 2.6l-2.6 2.6l-2.6 -2.6zM338.7 395.8l2.6 2.6l-2.6 2.6l-2.6 -2.6zM340.41 397.07l2.6 2.6l-2.6 2.6l-2.6 -2.6zM342.1 399.2l2.6 2.6l-2.6 2.6l-2.6 -2.6zM343.92 401.89l2.6 2.6l-2.6 2.6l-2.6 -2.6zM345.5 404.4l2.6 2.6l-2.6 2.6l-2.6 -2.6zM347 406.4l2.6 2.6l-2.6 2.6l-2.6 -2.6z" fill="#008a00" stroke="#000" stroke-width="1.05"/>
</g>
<rect x="134.5" y="26.8" width="212.5" height="141" fill="none" stroke="#000" stroke-width="1.3"/>
<rect x="134.5" y="286" width="212.5" height="147.7" fill="none" stroke="#000" stroke-width="1.3"/>
<path d="M152.5 167.8v-5.5M152.5 26.8v5.5M169.5 167.8v-12M169.5 26.8v12M187.5 167.8v-5.5M187.5 26.8v5.5M205.5 167.8v-12M205.5 26.8v12M223.5 167.8v-5.5M223.5 26.8v5.5M240.5 167.8v-12M240.5 26.8v12M258.5 167.8v-5.5M258.5 26.8v5.5M276.5 167.8v-12M276.5 26.8v12M293.5 167.8v-5.5M293.5 26.8v5.5M311.5 167.8v-12M311.5 26.8v12M329.5 167.8v-5.5M329.5 26.8v5.5M134.5 160.5h5.5M347 160.5h-5.5M134.5 153.5h5.5M347 153.5h-5.5M134.5 146.5h5.5M347 146.5h-5.5M134.5 139.5h5.5M347 139.5h-5.5M134.5 132.5h12M347 132.5h-12M134.5 125.5h5.5M347 125.5h-5.5M134.5 118.5h5.5M347 118.5h-5.5M134.5 111.5h5.5M347 111.5h-5.5M134.5 104.5h5.5M347 104.5h-5.5M134.5 97.5h12M347 97.5h-12M134.5 90.5h5.5M347 90.5h-5.5M134.5 83.5h5.5M347 83.5h-5.5M134.5 76.5h5.5M347 76.5h-5.5M134.5 69.5h5.5M347 69.5h-5.5M134.5 62.5h12M347 62.5h-12M134.5 55.5h5.5M347 55.5h-5.5M134.5 47.5h5.5M347 47.5h-5.5M134.5 40.5h5.5M347 40.5h-5.5M134.5 33.5h5.5M347 33.5h-5.5" stroke="#000" stroke-width="1.15" fill="none"/>
<path d="M152.5 433.7v-5.5M152.5 286v5.5M169.5 433.7v-12M169.5 286v12M187.5 433.7v-5.5M187.5 286v5.5M205.5 433.7v-12M205.5 286v12M223.5 433.7v-5.5M223.5 286v5.5M240.5 433.7v-12M240.5 286v12M258.5 433.7v-5.5M258.5 286v5.5M276.5 433.7v-12M276.5 286v12M293.5 433.7v-5.5M293.5 286v5.5M311.5 433.7v-12M311.5 286v12M329.5 433.7v-5.5M329.5 286v5.5M134.5 426.5h5.5M347 426.5h-5.5M134.5 418.5h5.5M347 418.5h-5.5M134.5 411.5h5.5M347 411.5h-5.5M134.5 404.5h5.5M347 404.5h-5.5M134.5 396.5h12M347 396.5h-12M134.5 389.5h5.5M347 389.5h-5.5M134.5 382.5h5.5M347 382.5h-5.5M134.5 374.5h5.5M347 374.5h-5.5M134.5 367.5h5.5M347 367.5h-5.5M134.5 359.5h12M347 359.5h-12M134.5 352.5h5.5M347 352.5h-5.5M134.5 345.5h5.5M347 345.5h-5.5M134.5 337.5h5.5M347 337.5h-5.5M134.5 330.5h5.5M347 330.5h-5.5M134.5 322.5h12M347 322.5h-12M134.5 315.5h5.5M347 315.5h-5.5M134.5 308.5h5.5M347 308.5h-5.5M134.5 300.5h5.5M347 300.5h-5.5M134.5 293.5h5.5M347 293.5h-5.5" stroke="#000" stroke-width="1.15" fill="none"/>
<rect x="69.5" y="8.5" width="383.5" height="212.5" fill="none" stroke="#000" stroke-width="1.3"/>
<rect x="69.5" y="274.5" width="383.5" height="200.5" fill="none" stroke="#000" stroke-width="1.3"/>
<path d="M84.5 221v-6M84.5 8.5v6M100.5 221v-6M100.5 8.5v6M115.5 221v-6M115.5 8.5v6M130.5 221v-6M130.5 8.5v6M146.5 221v-12M146.5 8.5v12M161.5 221v-6M161.5 8.5v6M176.5 221v-6M176.5 8.5v6M192.5 221v-6M192.5 8.5v6M207.5 221v-6M207.5 8.5v6M222.5 221v-12M222.5 8.5v12M238.5 221v-6M238.5 8.5v6M253.5 221v-6M253.5 8.5v6M268.5 221v-6M268.5 8.5v6M284.5 221v-6M284.5 8.5v6M299.5 221v-12M299.5 8.5v12M314.5 221v-6M314.5 8.5v6M330.5 221v-6M330.5 8.5v6M345.5 221v-6M345.5 8.5v6M360.5 221v-6M360.5 8.5v6M376.5 221v-12M376.5 8.5v12M391.5 221v-6M391.5 8.5v6M406.5 221v-6M406.5 8.5v6M422.5 221v-6M422.5 8.5v6M437.5 221v-6M437.5 8.5v6M69.5 218.5h12M453 218.5h-12M69.5 208.5h6M453 208.5h-6M69.5 197.5h6M453 197.5h-6M69.5 187.5h6M453 187.5h-6M69.5 176.5h6M453 176.5h-6M69.5 166.5h12M453 166.5h-12M69.5 155.5h6M453 155.5h-6M69.5 145.5h6M453 145.5h-6M69.5 134.5h6M453 134.5h-6M69.5 123.5h6M453 123.5h-6M69.5 113.5h12M453 113.5h-12M69.5 103.5h6M453 103.5h-6M69.5 92.5h6M453 92.5h-6M69.5 82.5h6M453 82.5h-6M69.5 71.5h6M453 71.5h-6M69.5 61.5h12M453 61.5h-12M69.5 50.5h6M453 50.5h-6M69.5 40.5h6M453 40.5h-6M69.5 29.5h6M453 29.5h-6M69.5 19.5h6M453 19.5h-6" stroke="#000" stroke-width="1.15" fill="none"/>
<path d="M84.5 475v-6M84.5 274.5v6M100.5 475v-6M100.5 274.5v6M115.5 475v-6M115.5 274.5v6M130.5 475v-6M130.5 274.5v6M146.5 475v-12M146.5 274.5v12M161.5 475v-6M161.5 274.5v6M176.5 475v-6M176.5 274.5v6M192.5 475v-6M192.5 274.5v6M207.5 475v-6M207.5 274.5v6M222.5 475v-12M222.5 274.5v12M238.5 475v-6M238.5 274.5v6M253.5 475v-6M253.5 274.5v6M268.5 475v-6M268.5 274.5v6M284.5 475v-6M284.5 274.5v6M299.5 475v-12M299.5 274.5v12M314.5 475v-6M314.5 274.5v6M330.5 475v-6M330.5 274.5v6M345.5 475v-6M345.5 274.5v6M360.5 475v-6M360.5 274.5v6M376.5 475v-12M376.5 274.5v12M391.5 475v-6M391.5 274.5v6M406.5 475v-6M406.5 274.5v6M422.5 475v-6M422.5 274.5v6M437.5 475v-6M437.5 274.5v6M69.5 458.5h6M453 458.5h-6M69.5 441.5h12M453 441.5h-12M69.5 424.5h6M453 424.5h-6M69.5 408.5h12M453 408.5h-12M69.5 391.5h6M453 391.5h-6M69.5 374.5h12M453 374.5h-12M69.5 358.5h6M453 358.5h-6M69.5 341.5h12M453 341.5h-12M69.5 324.5h6M453 324.5h-6M69.5 307.5h12M453 307.5h-12M69.5 291.5h6M453 291.5h-6" stroke="#000" stroke-width="1.15" fill="none"/>
<g font-family="Liberation Serif, serif" fill="#000">
<text transform="translate(55.59 225.3) scale(0.8850 1)" font-size="21.80">0</text>
<text transform="translate(31.9 172.8) scale(0.8850 1)" font-size="21.80">0.01</text>
<text transform="translate(31.8 120.3) scale(0.8850 1)" font-size="21.80">0.02</text>
<text transform="translate(31.49 67.8) scale(0.8850 1)" font-size="21.80">0.03</text>
<text transform="translate(31.04 15.3) scale(0.8850 1)" font-size="21.80">0.04</text>
<text transform="translate(55.59 481.8) scale(0.8850 1)" font-size="21.80">0</text>
<text transform="translate(31.9 448.38) scale(0.8850 1)" font-size="21.80">0.01</text>
<text transform="translate(31.8 414.96) scale(0.8850 1)" font-size="21.80">0.02</text>
<text transform="translate(31.49 381.55) scale(0.8850 1)" font-size="21.80">0.03</text>
<text transform="translate(31.04 348.13) scale(0.8850 1)" font-size="21.80">0.04</text>
<text transform="translate(31.49 314.71) scale(0.8850 1)" font-size="21.80">0.05</text>
<text transform="translate(31.31 281.3) scale(0.8850 1)" font-size="21.80">0.06</text>
<text transform="translate(64.99 498.36) scale(0.9000 1)" font-size="21.60">0</text>
<text transform="translate(131.73 498.36) scale(0.9000 1)" font-size="21.60">500</text>
<text transform="translate(203.23 498.36) scale(0.9000 1)" font-size="21.60">1000</text>
<text transform="translate(279.88 498.36) scale(0.9000 1)" font-size="21.60">1500</text>
<text transform="translate(356.95 498.36) scale(0.9000 1)" font-size="21.60">2000</text>
<text transform="translate(426.47 498.36) scale(0.8738 1)" font-size="21.60">2500</text>
<text transform="translate(212.13 524.71) scale(0.9504 1)" font-size="20.80">Energy (eV)</text>
<text transform="translate(84.35 32.93)" font-size="17.20">3×10</text>
<text transform="translate(121.18 25.93) scale(0.7760 1)" font-size="16.06">−</text>
<text transform="translate(126.41 23.9) scale(0.8778 1)" font-size="9.38">3</text>
<text transform="translate(84.35 68.18)" font-size="17.20">2×10</text>
<text transform="translate(121.18 61.18) scale(0.7760 1)" font-size="16.06">−</text>
<text transform="translate(126.41 59.15) scale(0.8778 1)" font-size="9.38">3</text>
<text transform="translate(102.66 103.43)" font-size="17.20">10</text>
<text transform="translate(121.18 96.43) scale(0.7760 1)" font-size="16.06">−</text>
<text transform="translate(126.41 94.4) scale(0.8778 1)" font-size="9.38">3</text>
<text transform="translate(74.65 173.93)" font-size="17.20">−1×10</text>
<text transform="translate(121.18 166.93) scale(0.7760 1)" font-size="16.06">−</text>
<text transform="translate(126.41 164.9) scale(0.8778 1)" font-size="9.38">3</text>
<text transform="translate(121.56 139.08)" font-size="17.20">0</text>
<text transform="translate(115.56 188.84) scale(1.0517 1)" font-size="17.20">1600</text>
<text transform="translate(186.39 188.84) scale(1.0517 1)" font-size="17.20">1700</text>
<text transform="translate(257.23 188.84) scale(1.0517 1)" font-size="17.20">1800</text>
<text transform="translate(328.06 188.84) scale(1.0517 1)" font-size="17.20">1900</text>
<text transform="translate(84.35 292.13)" font-size="17.20">3×10</text>
<text transform="translate(121.18 285.13) scale(0.7760 1)" font-size="16.06">−</text>
<text transform="translate(126.41 283.1) scale(0.8778 1)" font-size="9.38">3</text>
<text transform="translate(84.35 329.06)" font-size="17.20">2×10</text>
<text transform="translate(121.18 322.05) scale(0.7760 1)" font-size="16.06">−</text>
<text transform="translate(126.41 320.03) scale(0.8778 1)" font-size="9.38">3</text>
<text transform="translate(102.66 365.98)" font-size="17.20">10</text>
<text transform="translate(121.18 358.98) scale(0.7760 1)" font-size="16.06">−</text>
<text transform="translate(126.41 356.95) scale(0.8778 1)" font-size="9.38">3</text>
<text transform="translate(74.65 439.83)" font-size="17.20">−1×10</text>
<text transform="translate(121.18 432.83) scale(0.7760 1)" font-size="16.06">−</text>
<text transform="translate(126.41 430.8) scale(0.8778 1)" font-size="9.38">3</text>
<text transform="translate(121.56 403.31)" font-size="17.20">0</text>
<text transform="translate(115.56 454.04) scale(1.0517 1)" font-size="17.20">1600</text>
<text transform="translate(186.39 454.04) scale(1.0517 1)" font-size="17.20">1700</text>
<text transform="translate(257.23 454.04) scale(1.0517 1)" font-size="17.20">1800</text>
<text transform="translate(328.06 454.04) scale(1.0517 1)" font-size="17.20">1900</text>
<path d="M40 248.5h24M258 249.5h24.6" stroke="#000" stroke-width="1"/>
<g fill="#ff0000" stroke="#000" stroke-width="0.9"><circle cx="52.8" cy="248.5" r="2.3"/></g>
<path d="M270.3 246l3.2 3.2l-3.2 3.2l-3.2 -3.2z" fill="#008a00" stroke="#000" stroke-width="0.9"/>
<text transform="translate(87.29 256.24) scale(1.0729 1)" font-size="20.47" font-style="italic">p</text>
<text transform="translate(102.19 255.83) scale(1.3491 1)" font-size="18.00">=</text>
<text transform="translate(119.57 254.88) scale(0.9596 1)" font-size="19.30">1.2</text>
<text transform="translate(141.06 255.29) scale(1.4013 1)" font-size="19.30">×</text>
<text transform="translate(154 254.94) scale(0.9426 1)" font-size="19.30">10</text>
<text transform="translate(171.9 247.75) scale(0.7743 1)" font-size="17.40">-</text>
<text transform="translate(175.93 246.6) scale(1.0833 1)" font-size="14.05">2</text>
<text transform="translate(188.22 254.29) scale(0.9442 1)" font-size="19.30">mbar</text>
<text transform="translate(305.19 256.24) scale(1.0729 1)" font-size="20.47" font-style="italic">p</text>
<text transform="translate(320.09 255.83) scale(1.3491 1)" font-size="18.00">=</text>
<text transform="translate(338.32 254.88) scale(0.9229 1)" font-size="19.30">2.2</text>
<text transform="translate(358.96 255.29) scale(1.4013 1)" font-size="19.30">×</text>
<text transform="translate(371.9 254.94) scale(0.9426 1)" font-size="19.30">10</text>
<text transform="translate(389.8 247.75) scale(0.7743 1)" font-size="17.40">-</text>
<text transform="translate(393.83 246.6) scale(1.0833 1)" font-size="14.05">2</text>
<text transform="translate(406.12 254.29) scale(0.9442 1)" font-size="19.30">mbar</text>
<g transform="translate(0 0)"><path d="M1.1 111.2C1.4 112.2 2.6 112.8 4 113.5C7 115 10 116.4 13 117.9S19.5 121 22.2 122.6C23.6 123.4 23.7 124.4 22.7 125.2" fill="none" stroke="#000" stroke-width="1.15" stroke-linecap="round"/><path d="M5 114.1L12.4 117.6" stroke="#000" stroke-width="2.3" stroke-linecap="round"/><path d="M10.4 116.6V120.3" stroke="#000" stroke-width="1.1"/><circle cx="5.7" cy="112.1" r="0.75" fill="#000"/><g transform="translate(18.5 124) rotate(-90)"><text x="7.5" y="1.2" font-size="10.5" font-style="italic">ν</text><text x="13" y="2.2" font-size="7" font-style="italic">z</text></g></g>
<g transform="translate(0 260.2)"><path d="M1.1 111.2C1.4 112.2 2.6 112.8 4 113.5C7 115 10 116.4 13 117.9S19.5 121 22.2 122.6C23.6 123.4 23.7 124.4 22.7 125.2" fill="none" stroke="#000" stroke-width="1.15" stroke-linecap="round"/><path d="M5 114.1L12.4 117.6" stroke="#000" stroke-width="2.3" stroke-linecap="round"/><path d="M10.4 116.6V120.3" stroke="#000" stroke-width="1.1"/><circle cx="5.7" cy="112.1" r="0.75" fill="#000"/><g transform="translate(18.5 124) rotate(-90)"><text x="7.5" y="1.2" font-size="10.5" font-style="italic">ν</text><text x="13" y="2.2" font-size="7" font-style="italic">z</text></g></g>
</g>
</svg>
</body></html>
